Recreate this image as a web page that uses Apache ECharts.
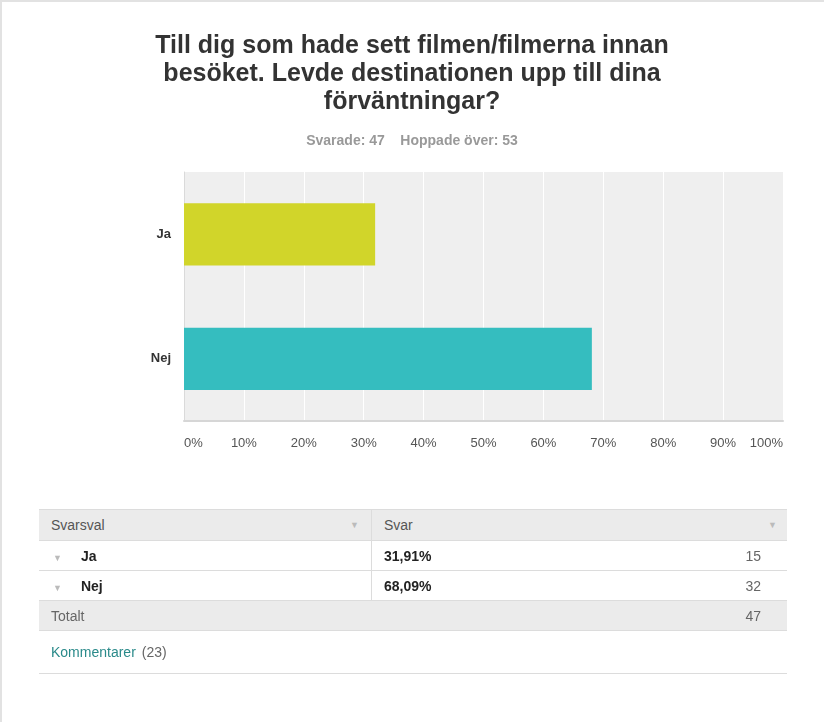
<!DOCTYPE html>
<html>
<head>
<meta charset="utf-8">
<script src="https://cdn.jsdelivr.net/npm/echarts@6/dist/echarts.min.js"></script>
<style>
  html, body { margin: 0; padding: 0; background: #fff; }
  #wrap { position: relative; width: 824px; height: 722px; overflow: hidden;
          border-top: 2px solid #e2e2e2; border-left: 2px solid #e2e2e2; box-sizing: border-box; }
  #chart { position: absolute; left: -2px; top: -2px; width: 824px; height: 722px; }
  #tbl { position: absolute; left: 37px; top: 507px; width: 748px; border-collapse: collapse;
         font-family: "Liberation Sans", Arial, sans-serif; font-size: 14px; }
  #tbl td { padding: 0; height: 29px; vertical-align: middle; }
  #tbl .hdr td { background: #ebebeb; color: #555; border-top: 1px solid #dcdcdc; border-bottom: 1px solid #dcdcdc; height: 30px; }
  #tbl .row td { border-bottom: 1px solid #dcdcdc; color: #333; }
  #tbl .tot td { background: #ebebeb; color: #666; border-bottom: 1px solid #dcdcdc; }
  #tbl .com td { height: 42px; border-bottom: 1px solid #dcdcdc; color: #666; }
  #tbl .c1 { width: 332px; border-right: 1px solid #dcdcdc; position: relative; }
  .tri { color: #bbb; font-size: 9px; }
  .b { font-weight: bold; color: #222; }
</style>
</head>
<body>
<div id="wrap">
  <div id="chart"></div>
  <table id="tbl"></table>
</div>
<script>
const titleText = 'Till dig som hade sett filmen/filmerna innan\nbesöket. Levde destinationen upp till dina\nförväntningar?';
const answered = 47;
const skipped = 53;
const categories = ['Ja', 'Nej'];
const percents = [31.91, 68.09];
const counts = [15, 32];
const percentLabels = ['31,91%', '68,09%'];
const barColors = ['#d1d52a', '#35bdbf'];
const xTicks = [0, 10, 20, 30, 40, 50, 60, 70, 80, 90, 100];
const comments = 23;

const chart = echarts.init(document.getElementById('chart'), null, { renderer: 'canvas' });
chart.setOption({
  animation: false,
  title: [
    {
      text: titleText,
      left: 'center', top: 27,
      textStyle: { fontFamily: '"Liberation Sans", Arial, sans-serif',
                   fontSize: 25, fontWeight: 'bold', color: '#333', lineHeight: 28, align: 'center' }
    },
    {
      text: 'Svarade: ' + answered + '    Hoppade över: ' + skipped,
      left: 'center', top: 129,
      textStyle: { fontFamily: '"Liberation Sans", Arial, sans-serif',
                   fontSize: 14, fontWeight: 'bold', color: '#999' }
    }
  ],
  grid: { left: 184, right: 41, top: 172, bottom: 301, show: true, backgroundColor: '#efefef', borderWidth: 0 },
  xAxis: {
    type: 'value', min: 0, max: 100, interval: 10,
    axisLine: { show: true, lineStyle: { color: '#d6d6d6', width: 2 } },
    axisTick: { show: false },
    splitLine: { show: true, lineStyle: { color: '#ffffff', width: 1 } },
    axisLabel: { formatter: v => xTicks.includes(v) ? v + '%' : '', color: '#555', fontSize: 13, margin: 16,
                 fontFamily: '"Liberation Sans", Arial, sans-serif',
                 alignMinLabel: 'left', alignMaxLabel: 'right' }
  },
  yAxis: {
    type: 'category', data: categories, inverse: true,
    axisLine: { show: true, lineStyle: { color: '#dadada', width: 1 } },
    axisTick: { show: false },
    axisLabel: { color: '#333', fontWeight: 'bold', fontSize: 13, margin: 13,
                 fontFamily: '"Liberation Sans", Arial, sans-serif' }
  },
  series: [{
    type: 'bar',
    barWidth: '50%',
    data: percents.map((v, i) => ({ value: v, itemStyle: { color: barColors[i] } }))
  }]
});

// Table built from the data arrays
const tbl = document.getElementById('tbl');
let html = '';
html += '<tr class="hdr"><td class="c1"><span style="padding-left:12px">Svarsval</span>' +
        '<span class="tri" style="position:absolute;right:12px;top:10px">&#9660;</span></td>' +
        '<td style="position:relative"><span style="padding-left:12px">Svar</span>' +
        '<span class="tri" style="position:absolute;right:10px;top:10px">&#9660;</span></td></tr>';
categories.forEach((c, i) => {
  html += '<tr class="row"><td class="c1"><span class="tri" style="padding-left:14px">&#9660;</span>' +
          '<span class="b" style="padding-left:19px">' + c + '</span></td>' +
          '<td style="position:relative"><span class="b" style="padding-left:12px">' + percentLabels[i] + '</span>' +
          '<span style="position:absolute;right:26px;top:7px;color:#666">' + counts[i] + '</span></td></tr>';
});
html += '<tr class="tot"><td colspan="2" style="position:relative"><span style="padding-left:12px">Totalt</span>' +
        '<span style="position:absolute;right:26px;top:7px">' + answered + '</span></td></tr>';
html += '<tr class="com"><td colspan="2"><span style="padding-left:12px;color:#2a8a8a">Kommentarer</span>' +
        '<span style="padding-left:6px">(' + comments + ')</span></td></tr>';
tbl.innerHTML = html;
</script>
</body>
</html>
